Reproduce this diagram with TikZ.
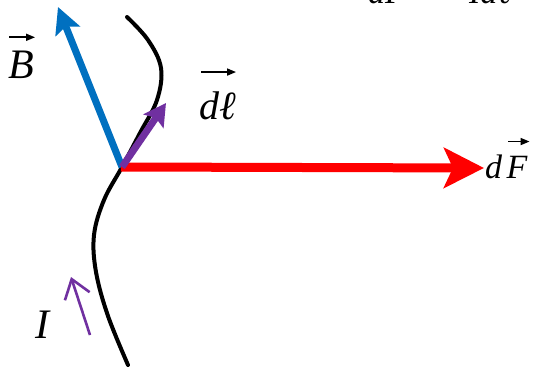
\documentclass[tikz,border=0pt]{standalone}
\usepackage{fontspec}
\setmainfont{Liberation Serif}
\usetikzlibrary{arrows.meta}
\definecolor{bblue}{HTML}{0070C0}
\definecolor{ppurple}{HTML}{7030A0}
\definecolor{rred}{HTML}{FF0000}
\tikzset{
  wire/.style={line width=4pt, line cap=round},
  barrowstyle/.style={draw=bblue, line width=7pt, -{Stealth[length=26pt,width=26pt,inset=5pt,fill=bblue]}},
  larrowstyle/.style={draw=ppurple, line width=7pt, -{Stealth[length=22pt,width=24pt,inset=4pt,fill=ppurple]}},
  farrowstyle/.style={draw=rred, line width=9pt, -{Stealth[length=40pt,width=40pt,inset=9pt,fill=rred]}},
  iarrowstyle/.style={draw=ppurple, line width=2.6pt, -{Straight Barb[length=18pt,width=26pt,line width=2.6pt]}},
  overarrow/.style={draw=black, line width=1.6pt, -{Triangle[length=9pt,width=7pt]}},
  biglabel/.style={inner sep=0pt, font=\fontsize{42}{50}\selectfont\itshape},
  dllabel/.style={inner sep=0pt, font=\fontsize{40}{48}\selectfont\itshape},
  midlabel/.style={inner sep=0pt, font=\fontsize{34}{40}\selectfont\itshape},
}
\begin{document}
\begin{tikzpicture}[x=1pt,y=-1pt]
\clip (0,0) rectangle (542,372);
\fill[white] (0,0) rectangle (542,372);
% wire
\draw[wire] plot[smooth, tension=0.6] coordinates {(127,17) (148,40) (161,68) (157,100) (140,133) (122,167) (104,200) (94,235) (96,272) (108,316) (128,365)};
\coordinate (P) at (122,167);
\coordinate (Btip) at (58,7);
\coordinate (Ltip) at (166,103);
\coordinate (Ftip) at (484,168);
\coordinate (Itail) at (90,335);
\coordinate (Itip) at (71,277);
\draw[barrowstyle] (P) -- (Btip);
\draw[farrowstyle] ([xshift=-1pt]P) -- (Ftip);
\draw[larrowstyle] (P) -- (Ltip);
\draw[iarrowstyle] (Itail) -- (Itip);
% labels
\node[biglabel, anchor=base west] (Blab) at (8,78) {B};
\draw[overarrow] ([xshift=1pt,yshift=13pt]Blab.north west) -- ([xshift=1pt,yshift=13pt]Blab.north east);
\node[dllabel, anchor=base west] (dllab) at (199,119) {dℓ};
\draw[overarrow] ([xshift=2pt,yshift=19pt]dllab.north west) -- ([yshift=19pt]dllab.north east);
\node[midlabel, anchor=base west] (dlab) at (485,178) {d};
\node[midlabel, anchor=base west] (Flab) at ([xshift=4pt]dlab.base east) {F};
\draw[overarrow] ([xshift=2pt,yshift=14pt]Flab.north west) -- ([xshift=2pt,yshift=14pt]Flab.north east);
\node[biglabel, anchor=base] (Ilab) at (42,338) {I};
\node[midlabel, anchor=base west] (eqlab) at (368,4) {dF\hspace{22pt}\upshape=\hspace{22pt}\itshape Idℓ};
\end{tikzpicture}
\end{document}
